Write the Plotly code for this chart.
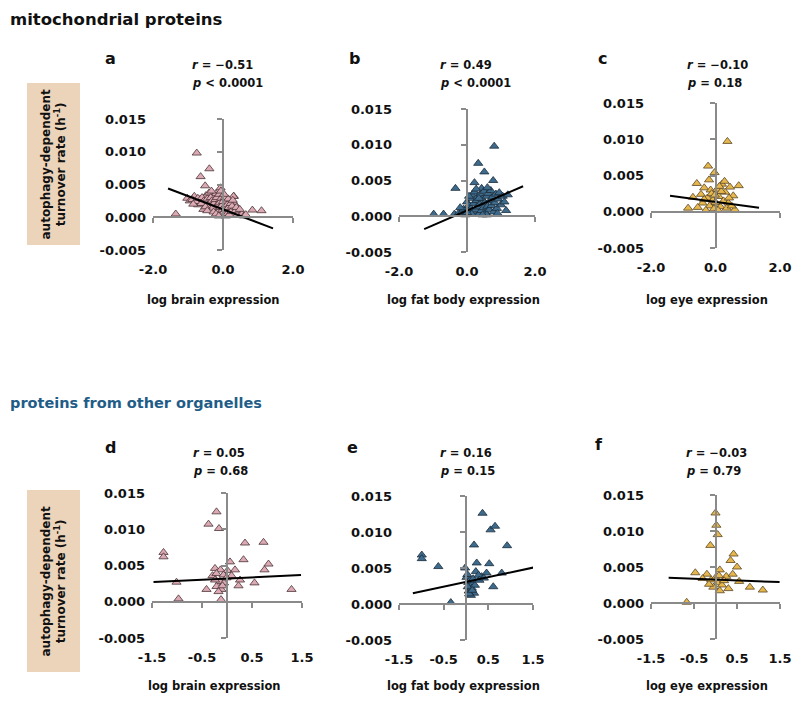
import plotly.graph_objects as go

# ---------------- data ----------------
a_x = [-0.75, -0.39, -0.64, -0.51, -0.07, -1.35, 0.84, 1.10, 0.31, -1.02, -0.82, -0.66, -0.71, -0.49,
       -0.40, -0.28, -0.20, -0.13, -0.37, -0.56, -0.23, 0.10, 0.30, 0.34, 0.20, -0.09, 0.01, 0.44, 0.53,
       -0.95, -0.88, -0.78, -0.72, -0.60, -0.55, -0.45, -0.42, -0.35, -0.32, -0.30, -0.26, -0.22, -0.18,
       -0.16, -0.14, -0.11, -0.10, -0.08, -0.05, -0.04, -0.03, -0.02, 0.00, 0.02, 0.04, 0.05, 0.07, 0.08,
       0.12, 0.13, 0.15, 0.16, 0.18, 0.22, 0.24, 0.26, 0.28, 0.36, 0.38, 0.40, 0.48, 0.60, 0.65, -0.62,
       -0.50, -0.45, -0.27, -0.20, -0.12, -0.06, 0.03, -0.33, -0.85]
a_y = [0.0098, 0.0074, 0.0062, 0.0048, 0.0045, 0.0005, 0.0011, 0.0010, 0.0032, 0.0029, 0.0032, 0.0027,
       0.0019, 0.0033, 0.0037, 0.0032, 0.0036, 0.0028, 0.0022, 0.0012, 0.0017, 0.0025, 0.0032, 0.0020,
       0.0012, 0.0007, 0.0003, 0.0007, 0.0005, 0.0025, 0.0027, 0.0024, 0.0029, 0.0030, 0.0025, 0.0028,
       0.0018, 0.0030, 0.0025, 0.0014, 0.0021, 0.0027, 0.0030, 0.0019, 0.0010, 0.0035, 0.0022, 0.0015,
       0.0029, 0.0004, 0.0018, 0.0011, 0.0024, 0.0008, 0.0016, 0.0030, 0.0012, 0.0002, 0.0019, 0.0006,
       0.0028, 0.0015, 0.0004, 0.0021, 0.0009, 0.0017, 0.0026, 0.0010, 0.0015, 0.0003, 0.0012, 0.0002,
       0.0004, 0.0021, 0.0016, 0.0010, 0.0008, 0.0005, 0.0002, 0.0040, 0.0035, 0.0040, 0.0020]

b_x = [0.80, 0.33, 0.51, 0.22, 0.77, -0.34, -0.98, -0.69, -0.37, 0.00, 0.43, -0.25, -0.15, -0.10, -0.05,
       0.02, 0.05, 0.08, 0.10, 0.12, 0.15, 0.18, 0.20, 0.22, 0.25, 0.28, 0.30, 0.32, 0.35, 0.38, 0.40,
       0.42, 0.45, 0.48, 0.50, 0.52, 0.55, 0.58, 0.60, 0.62, 0.65, 0.68, 0.70, 0.72, 0.75, 0.78, 0.82,
       0.85, 0.88, 0.92, 0.95, 1.00, 1.05, 1.10, 1.15, 1.20, 0.06, 0.14, 0.35, 0.58, 0.27, 0.60, 0.90,
       -0.20, 0.00, 0.46]
b_y = [0.0098, 0.0074, 0.0062, 0.0047, 0.0050, 0.0039, 0.0003, 0.0003, 0.0003, 0.0020, 0.0039, 0.0004,
       0.0006, 0.0010, 0.0002, 0.0008, 0.0015, 0.0004, 0.0025, 0.0011, 0.0030, 0.0006, 0.0018, 0.0034,
       0.0009, 0.0022, 0.0013, 0.0028, 0.0003, 0.0017, 0.0031, 0.0008, 0.0024, 0.0012, 0.0035, 0.0019,
       0.0005, 0.0028, 0.0014, 0.0032, 0.0009, 0.0022, 0.0036, 0.0015, 0.0027, 0.0006, 0.0019, 0.0031,
       0.0011, 0.0024, 0.0033, 0.0016, 0.0028, 0.0020, 0.0008, 0.0030, 0.0028, 0.0003, 0.0025, 0.0002,
       0.0038, 0.0040, 0.0004, 0.0012, 0.0005, 0.0002]

c_x = [0.37, -0.23, -0.03, -0.58, 0.72, 0.45, -0.35, 0.20, -0.15, 0.05, 0.30, -0.45, -0.70, 0.55, -0.25,
       0.10, -0.08, 0.25, 0.40, -0.40, 0.02, -0.18, 0.15, 0.35, -0.55, -0.05, 0.60, -0.30, 0.08, -0.12,
       0.18, -0.02, -0.85, 0.50, 0.28, -0.20, 0.00, -0.35, 0.12, 0.42]
c_y = [0.0097, 0.0063, 0.0054, 0.0039, 0.0036, 0.0034, 0.0033, 0.0038, 0.0030, 0.0031, 0.0027, 0.0024,
       0.0020, 0.0022, 0.0019, 0.0021, 0.0016, 0.0015, 0.0012, 0.0012, 0.0010, 0.0008, 0.0007, 0.0005,
       0.0006, 0.0004, 0.0003, 0.0002, 0.0002, 0.0025, 0.0028, 0.0023, 0.0005, 0.0008, 0.0042, 0.0044,
       0.0013, 0.0017, 0.0035, 0.0019]

d_x = [-0.21, -0.37, -0.16, 0.36, 0.73, -1.27, -1.27, 0.06, 0.33, 0.83, 0.75, -0.24, -0.13, 0.01, 0.16,
       -0.29, -0.21, -0.07, 0.09, -1.01, -0.14, -0.24, -0.06, 0.26, 0.23, 0.55, 1.29, -0.41, -0.21, -0.11,
       -0.17, -0.09, -0.97, -0.12, -0.01]
d_y = [0.0124, 0.0107, 0.0101, 0.0081, 0.0082, 0.0068, 0.0062, 0.0055, 0.0058, 0.0052, 0.0044, 0.0046,
       0.0044, 0.0043, 0.0044, 0.0036, 0.0039, 0.0037, 0.0036, 0.0027, 0.0028, 0.0030, 0.0026, 0.0030,
       0.0022, 0.0026, 0.0017, 0.0017, 0.0021, 0.0017, 0.0014, 0.0022, 0.0004, 0.0003, 0.0033]

e_x = [0.37, 0.55, 0.65, 0.18, -0.99, -0.99, -0.62, -0.02, 0.24, 0.52, 0.01, 0.22, 0.35, 0.46, 0.61,
       -0.34, 0.92, 0.80, 0.05, 0.08, 0.10, 0.12, 0.15, 0.06, 0.09, 0.13, 0.18, 0.11, 0.16, 0.04, 0.20,
       0.07, 0.14, 0.28, 0.30, 0.40, 0.03]
e_y = [0.0126, 0.0103, 0.0108, 0.0082, 0.0068, 0.0063, 0.0052, 0.0050, 0.0057, 0.0056, 0.0037, 0.0045,
       0.0038, 0.0043, 0.0024, 0.0002, 0.0081, 0.0043, 0.0030, 0.0025, 0.0020, 0.0016, 0.0028, 0.0018,
       0.0033, 0.0022, 0.0015, 0.0012, 0.0035, 0.0024, 0.0026, 0.0014, 0.0019, 0.0040, 0.0033, 0.0036,
       0.0041]

f_x = [0.00, 0.02, 0.05, -0.12, 0.42, 0.35, 0.50, 0.10, -0.47, -0.20, 0.25, 0.55, -0.10, 0.05, 0.15,
       -0.05, 0.30, 0.10, -0.67, 1.10, 0.80, 0.00, 0.20, -0.15, 0.08, 0.40, -0.30]
f_y = [0.0125, 0.0108, 0.0095, 0.0080, 0.0068, 0.0059, 0.0050, 0.0046, 0.0042, 0.0040, 0.0037, 0.0030,
       0.0032, 0.0028, 0.0025, 0.0022, 0.0020, 0.0017, 0.0001, 0.0018, 0.0022, 0.0035, 0.0031, 0.0026,
       0.0038, 0.0040, 0.0034]

# regression lines: slope, intercept, x extent
trend_slopes = [-0.00203, 0.00206, -0.000594, 0.00032, 0.00132, -0.00023]
trend_intercepts = [0.0012, 0.0008, 0.00136, 0.0032, 0.00307, 0.00325]
trend_x_from = [-1.57, -1.26, -1.41, -1.47, -1.19, -1.09]
trend_x_to = [1.43, 1.65, 1.35, 1.48, 1.54, 1.49]

panel_letters = ["a", "b", "c", "d", "e", "f"]
r_texts = ["\u22120.51", "0.49", "\u22120.10", "0.05", "0.16", "\u22120.03"]
p_texts = ["&lt; 0.0001", "&lt; 0.0001", "= 0.18", "= 0.68", "= 0.15", "= 0.79"]
x_titles = ["log brain expression", "log fat body expression", "log eye expression",
            "log brain expression", "log fat body expression", "log eye expression"]

y_tick_vals = [-0.005, 0.0, 0.005, 0.010, 0.015]
y_tick_text = ["-0.005", "0.000", "0.005", "0.010", "0.015"]
x_top_tick_vals = [-2.0, 0.0, 2.0]
x_top_tick_text = ["-2.0", "0.0", "2.0"]
x_bot_tick_vals = [-1.5, -0.5, 0.5, 1.5]
x_bot_tick_text = ["-1.5", "-0.5", "0.5", "1.5"]

section_titles = ["mitochondrial proteins", "proteins from other organelles"]
y_title = "autophagy-dependent<br>turnover rate (h<sup>-1</sup>)"

# ---------------- layout geometry (screen pixels; page body has an 8px margin) ----------------
OFF = 8
W, H = 800 - 2 * OFF, 707 - 2 * OFF
FONT = "DejaVu Sans"
def fx(px): return (px - OFF) / W
def fy(py): return 1 - (py - OFF) / H

pink = dict(fill="#dcaab4", line="#4a3436")
blue = dict(fill="#3e6b8c", line="#1b2c3b")
gold = dict(fill="#e6b74c", line="#5a4626")

panels = [
    dict(x=a_x, y=a_y, col=pink, xpx=(153, 293), ypx=(119, 250), xr=[-2, 2], top=True,
         letter=(110, 58), stat=(190, 65), xt=(213, 300)),
    dict(x=b_x, y=b_y, col=blue, xpx=(399, 535), ypx=(109, 252), xr=[-2, 2], top=True,
         letter=(354, 58), stat=(438, 65), xt=(463, 300)),
    dict(x=c_x, y=c_y, col=gold, xpx=(651, 780), ypx=(103, 248), xr=[-2, 2], top=True,
         letter=(602, 58), stat=(685, 65), xt=(707, 300)),
    dict(x=d_x, y=d_y, col=pink, xpx=(152, 302), ypx=(493, 638), xr=[-1.5, 1.5], top=False,
         letter=(110, 447), stat=(191, 453), xt=(214, 686)),
    dict(x=e_x, y=e_y, col=blue, xpx=(399, 533), ypx=(496, 640), xr=[-1.5, 1.5], top=False,
         letter=(352, 447), stat=(438, 453), xt=(463, 686)),
    dict(x=f_x, y=f_y, col=gold, xpx=(651, 780), ypx=(495, 639), xr=[-1.5, 1.5], top=False,
         letter=(599, 445), stat=(684, 453), xt=(707, 686)),
]
y_range = [-0.005, 0.015]
axis_gray = "#8a8a8a"

fig = go.Figure()
layout = dict(width=W, height=H, margin=dict(l=0, r=0, t=0, b=0, autoexpand=False),
              paper_bgcolor="white", plot_bgcolor="rgba(0,0,0,0)", showlegend=False,
              annotations=[], shapes=[])
tickfont = dict(family=FONT, size=13, color="#111111", weight="bold")

for i, p in enumerate(panels):
    n = i + 1
    m = i + 7
    xd = [fx(p["xpx"][0]), fx(p["xpx"][1])]
    yd = [fy(p["ypx"][1]), fy(p["ypx"][0])]
    tv = x_top_tick_vals if p["top"] else x_bot_tick_vals
    tt = x_top_tick_text if p["top"] else x_bot_tick_text
    # where data zero falls, in paper coords
    y0_paper = yd[0] + (0 - y_range[0]) / (y_range[1] - y_range[0]) * (yd[1] - yd[0])
    x0_paper = xd[0] + (0 - p["xr"][0]) / (p["xr"][1] - p["xr"][0]) * (xd[1] - xd[0])

    # label axes (bottom / left), no lines
    layout[f"xaxis{n}"] = dict(domain=xd, range=p["xr"], anchor=f"y{n}", showline=False,
                               showgrid=False, zeroline=False, ticks="", tickvals=tv, ticktext=tt,
                               tickfont=tickfont, ticklabelstandoff=10, ticklabeloverflow="allow",
                               fixedrange=True)
    layout[f"yaxis{n}"] = dict(domain=yd, range=y_range, anchor=f"x{n}", showline=False,
                               showgrid=False, zeroline=False, ticks="", tickvals=y_tick_vals,
                               ticktext=y_tick_text, tickfont=tickfont, ticklabelstandoff=6,
                               ticklabeloverflow="allow", fixedrange=True)
    # line axes crossing at zero
    layout[f"xaxis{m}"] = dict(domain=xd, overlaying=f"x{n}", anchor="free", position=y0_paper,
                               range=p["xr"], showline=True, linecolor=axis_gray, linewidth=2,
                               ticks="outside", ticklen=5, tickwidth=2, tickcolor=axis_gray,
                               tickvals=tv, showticklabels=False, showgrid=False, zeroline=False,
                               fixedrange=True)
    layout[f"yaxis{m}"] = dict(domain=yd, overlaying=f"y{n}", anchor="free", position=x0_paper,
                               range=y_range, showline=True, linecolor=axis_gray, linewidth=2,
                               ticks="outside", ticklen=5, tickwidth=2, tickcolor=axis_gray,
                               tickvals=y_tick_vals, showticklabels=False, showgrid=False,
                               zeroline=False, fixedrange=True)
    # empty trace so the crossing axes get drawn
    fig.add_trace(go.Scatter(x=[], y=[], mode="markers", xaxis=f"x{m}", yaxis=f"y{m}",
                             hoverinfo="skip"))

for i, p in enumerate(panels):
    n = i + 1
    fig.add_trace(go.Scatter(x=p["x"], y=p["y"], mode="markers", xaxis=f"x{n}", yaxis=f"y{n}",
                             marker=dict(symbol="triangle-up", size=8, color=p["col"]["fill"],
                                         line=dict(color=p["col"]["line"], width=0.8)),
                             cliponaxis=False))
    xs = [trend_x_from[i], trend_x_to[i]]
    ys = [trend_intercepts[i] + trend_slopes[i] * v for v in xs]
    fig.add_trace(go.Scatter(x=xs, y=ys, mode="lines", xaxis=f"x{n}", yaxis=f"y{n}",
                             line=dict(color="black", width=2), cliponaxis=False))

    ann = layout["annotations"]
    ann.append(dict(text=panel_letters[i], x=fx(p["letter"][0]), y=fy(p["letter"][1]),
                    xref="paper", yref="paper", showarrow=False, xanchor="center", yanchor="middle",
                    font=dict(family=FONT, size=16, color="#111111", weight="bold")))
    ann.append(dict(text=f"<i>r</i> = {r_texts[i]}", x=fx(p["stat"][0]), y=fy(p["stat"][1]),
                    xref="paper", yref="paper", showarrow=False, xanchor="left", yanchor="middle",
                    font=dict(family=FONT, size=11.5, color="#111111", weight="bold")))
    ann.append(dict(text=f"<i>p</i> {p_texts[i]}", x=fx(p["stat"][0]), y=fy(p["stat"][1] + 18),
                    xref="paper", yref="paper", showarrow=False, xanchor="left", yanchor="middle",
                    font=dict(family=FONT, size=11.5, color="#111111", weight="bold")))
    ann.append(dict(text=x_titles[i], x=fx(p["xt"][0]), y=fy(p["xt"][1]),
                    xref="paper", yref="paper", showarrow=False, xanchor="center", yanchor="middle",
                    font=dict(family=FONT, size=11.5, color="#111111", weight="bold")))

# section titles
layout["annotations"].append(dict(text=section_titles[0], x=fx(OFF), y=fy(OFF), xref="paper",
                                  yref="paper", showarrow=False, xanchor="left", yanchor="top",
                                  font=dict(family=FONT, size=16.5, color="#111111", weight="bold")))
layout["annotations"].append(dict(text=section_titles[1], x=fx(OFF), y=fy(403), xref="paper",
                                  yref="paper", showarrow=False, xanchor="left", yanchor="middle",
                                  font=dict(family=FONT, size=14.5, color="#1f5d88", weight="bold")))

# y-axis title boxes
for (top, bot) in [(83, 245), (490, 672)]:
    layout["shapes"].append(dict(type="rect", xref="paper", yref="paper", x0=fx(27), x1=fx(80),
                                 y0=fy(bot), y1=fy(top), fillcolor="#ecd4ba", line=dict(width=0),
                                 layer="below"))
    layout["annotations"].append(dict(text=y_title, x=fx(53.5), y=fy((top + bot) / 2),
                                      xref="paper", yref="paper", showarrow=False, textangle=-90,
                                      xanchor="center", yanchor="middle",
                                      font=dict(family=FONT, size=12, color="#111111", weight="bold")))

fig.update_layout(**layout)
fig.write_html("out.html")
